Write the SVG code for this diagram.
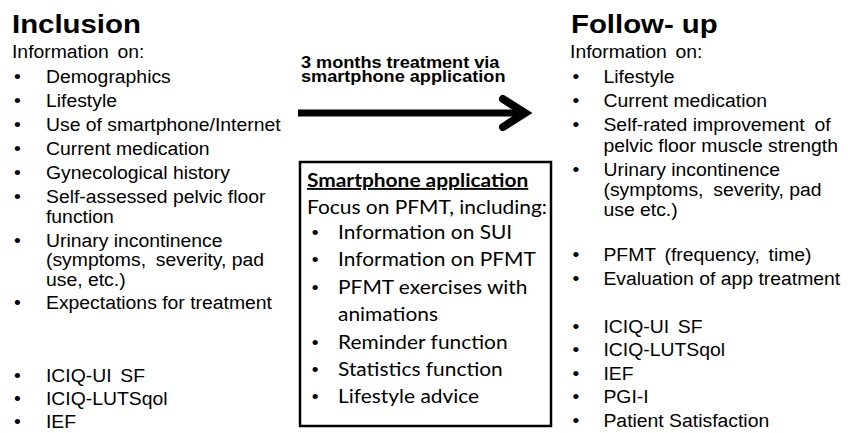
<svg xmlns="http://www.w3.org/2000/svg" width="848" height="433" viewBox="0 0 848 433">
<style>
text{fill:#000;font-family:"Liberation Sans",Arial,sans-serif;font-size:17.6px}
.title{font-weight:bold;font-size:26.7px}
.lbl{font-weight:bold;font-size:16.5px}
.app{font-family:Lato,"Open Sans",sans-serif;font-size:19px}
.apph{font-weight:bold;text-decoration:underline}
.ws{word-spacing:3px}
</style>
<rect width="848" height="433" fill="#fff"/>
<g id="inclusion" transform="scale(1.1,1)">
<text class="title" x="10.9" y="33">Inclusion</text>
<text class="ws" x="10.9" y="58">Information on:</text>
<text x="12.8" y="83">•</text><text x="41.8" y="83">Demographics</text>
<text x="12.8" y="107">•</text><text x="41.8" y="107">Lifestyle</text>
<text x="12.8" y="131">•</text><text x="41.8" y="131">Use of smartphone/Internet</text>
<text x="12.8" y="155">•</text><text x="41.8" y="155">Current medication</text>
<text x="12.8" y="179">•</text><text x="41.8" y="179">Gynecological history</text>
<text x="12.8" y="203">•</text><text x="41.8" y="203">Self-assessed pelvic floor</text>
<text x="41.8" y="223">function</text>
<text x="12.8" y="247">•</text><text x="41.8" y="247">Urinary incontinence</text>
<text x="41.8" y="266"><tspan>(symptoms,</tspan><tspan dx="4"> severity, pad</tspan></text>
<text x="41.8" y="286">use, etc.)</text>
<text x="12.8" y="309">•</text><text x="41.8" y="309">Expectations for treatment</text>
<text x="12.8" y="382">•</text><text class="ws" x="41.8" y="382">ICIQ-UI SF</text>
<text x="12.8" y="405">•</text><text x="41.8" y="405">ICIQ-LUTSqol</text>
<text x="12.8" y="428">•</text><text x="41.8" y="428">IEF</text>
</g>
<g id="connectors">
<line x1="298" y1="113" x2="524" y2="113" stroke="#000" stroke-width="7"/>
<polyline points="503,99 525,113 503,127" fill="none" stroke="#000" stroke-width="8" stroke-linecap="round" stroke-linejoin="miter"/>
<g id="arrow-label" transform="scale(1.1,1)">
<text class="lbl" x="273.6" y="68.5">3 months treatment via</text>
<text class="lbl" x="273.6" y="82">smartphone application</text>
</g>
</g>
<g id="app">
<rect x="300" y="162" width="251" height="264" fill="#fff" stroke="#000" stroke-width="2.5"/>
<g transform="scale(1.1,1)">
<text class="app apph" x="279.1" y="187">Smartphone application</text>
<text class="app" x="279.1" y="214">Focus on PFMT, including:</text>
<text x="283.4" y="239">•</text><text class="app" x="307.3" y="239">Information on SUI</text>
<text x="283.4" y="266.5">•</text><text class="app" x="307.3" y="266.5">Information on PFMT</text>
<text x="283.4" y="294">•</text><text class="app" x="307.3" y="294">PFMT exercises with</text>
<text class="app" x="307.3" y="321.5">animations</text>
<text x="283.4" y="349">•</text><text class="app" x="307.3" y="349">Reminder function</text>
<text x="283.4" y="376">•</text><text class="app" x="307.3" y="376">Statistics function</text>
<text x="283.4" y="403">•</text><text class="app" x="307.3" y="403">Lifestyle advice</text>
</g>
</g>
<g id="followup" transform="scale(1.1,1)">
<text class="title" x="519.1" y="33">Follow- up</text>
<text class="ws" x="518.2" y="58">Information on:</text>
<text x="520.5" y="83">•</text><text x="548.6" y="83">Lifestyle</text>
<text x="520.5" y="107">•</text><text x="548.6" y="107">Current medication</text>
<text x="520.5" y="131">•</text><text x="548.6" y="131"><tspan>Self-rated improvement</tspan><tspan dx="4"> of</tspan></text>
<text x="548.6" y="152">pelvic floor muscle strength</text>
<text x="520.5" y="176">•</text><text x="548.6" y="176">Urinary incontinence</text>
<text x="548.6" y="196"><tspan>(symptoms,</tspan><tspan dx="4"> severity, pad</tspan></text>
<text x="548.6" y="216">use etc.)</text>
<text x="520.5" y="261">•</text><text class="ws" x="548.6" y="261">PFMT (frequency, time)</text>
<text x="520.5" y="285">•</text><text x="548.6" y="285">Evaluation of app treatment</text>
<text x="520.5" y="333">•</text><text class="ws" x="548.6" y="333">ICIQ-UI SF</text>
<text x="520.5" y="356">•</text><text x="548.6" y="356">ICIQ-LUTSqol</text>
<text x="520.5" y="380">•</text><text x="548.6" y="380">IEF</text>
<text x="520.5" y="403">•</text><text x="548.6" y="403">PGI-I</text>
<text x="520.5" y="427">•</text><text x="548.6" y="427">Patient Satisfaction</text>
</g>
</svg>
